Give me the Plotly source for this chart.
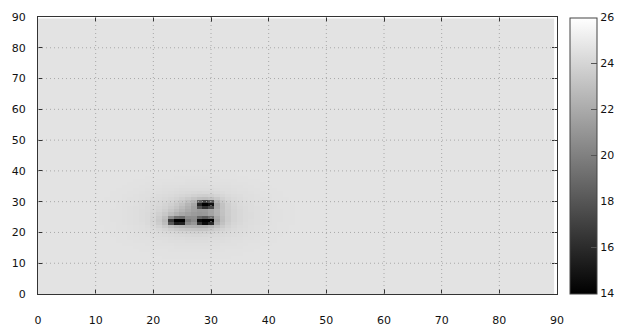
import numpy as np
import plotly.graph_objects as go

# ---- data ----
grid_x = list(range(90))          # cell centres along x
grid_y = list(range(90))          # cell centres along y
background_level = 24.7           # level of the flat light-grey field

# three dark spots (centre x, centre y, value at centre, half-widths)
spot_x = [24.2, 29.1, 29.1]
spot_y = [23.8, 23.8, 29.0]
spot_value = [14.6, 14.2, 14.8]
spot_sx = [1.25, 1.2, 1.2]
spot_sy = [0.95, 0.95, 1.0]

# broad faint halo around the spots
halo_x = [27.5, 27.5]
halo_y = [25.8, 25.8]
halo_value = [22.9, 23.9]
halo_sx = [3.0, 7.0]
halo_sy = [3.0, 6.0]

tick_vals = [0, 10, 20, 30, 40, 50, 60, 70, 80, 90]
cbar_ticks = [14, 16, 18, 20, 22, 24, 26]
z_min, z_max = 14, 26

# ---- build field ----
X, Y = np.meshgrid(np.array(grid_x, float), np.array(grid_y, float))
Z = np.full(X.shape, background_level)
for cx, cy, v, sx, sy in zip(halo_x, halo_y, halo_value, halo_sx, halo_sy):
    Z -= (background_level - v) * np.exp(-0.5 * (((X - cx) / sx) ** 2 + ((Y - cy) / sy) ** 2))
for cx, cy, v, sx, sy in zip(spot_x, spot_y, spot_value, spot_sx, spot_sy):
    # flat-topped block with soft edges
    core = np.exp(-0.5 * (np.abs((X - cx) / sx) ** 4 + np.abs((Y - cy) / sy) ** 4))
    soft = np.exp(-0.5 * (((X - cx) / (sx * 1.6)) ** 2 + ((Y - cy) / (sy * 1.6)) ** 2))
    Z -= (background_level - v) * (0.8 * core + 0.2 * soft)
Z = np.clip(Z, z_min, z_max)

font = dict(family="DejaVu Sans", size=11, color="#111111")

CB_X = 1.025
CB_THICK = 27
PLOT_W = 624 - 38 - 67

fig = go.Figure(go.Heatmap(
    x=grid_x, y=grid_y, z=Z,
    colorscale=[[0, "#000000"], [1, "#ffffff"]],
    zmin=z_min, zmax=z_max, hoverinfo="skip",
    colorbar=dict(
        x=CB_X, xanchor="left", xpad=0, ypad=0,
        thicknessmode="pixels", thickness=CB_THICK,
        lenmode="pixels", len=276, y=0.5, yanchor="middle",
        outlinewidth=1, outlinecolor="#444444",
        tickvals=cbar_ticks, ticks="inside", ticklen=6,
        tickcolor="#555555", tickfont=font,
    ),
))

# dotted grid drawn above the map
grid_line = dict(color="#a8a8a8", width=1, dash="1px,3px")
shapes = []
for v in tick_vals[1:-1]:
    shapes.append(dict(type="line", xref="x", yref="y", x0=v, x1=v, y0=0, y1=90,
                       line=grid_line, layer="above"))
    shapes.append(dict(type="line", xref="x", yref="y", x0=0, x1=90, y0=v, y1=v,
                       line=grid_line, layer="above"))

# mirrored ticks on the left side of the colour bar
for v in cbar_ticks[1:-1]:
    yp = (v - z_min) / (z_max - z_min)
    shapes.append(dict(type="line", xref="paper", yref="paper",
                       x0=CB_X + 1 / PLOT_W, x1=CB_X + 7 / PLOT_W, y0=yp, y1=yp,
                       line=dict(color="#555555", width=1), layer="above"))

axis_common = dict(
    range=[0, 90], tickvals=tick_vals, showgrid=False, zeroline=False,
    showline=True, linecolor="#333333", linewidth=1, mirror="ticks",
    ticks="inside", ticklen=5, tickcolor="#333333", tickfont=font,
    layer="above traces",
)

fig.update_layout(
    width=624, height=327,
    margin=dict(l=38, r=67, t=17, b=33, autoexpand=False),
    paper_bgcolor="white", plot_bgcolor="white",
    xaxis=dict(**axis_common, ticklabelstandoff=16),
    yaxis=dict(**axis_common, ticklabelstandoff=9),
    shapes=shapes,
)

fig.write_html("out.html", config={"displayModeBar": False},
               post_script="document.body.style.margin='0';")
